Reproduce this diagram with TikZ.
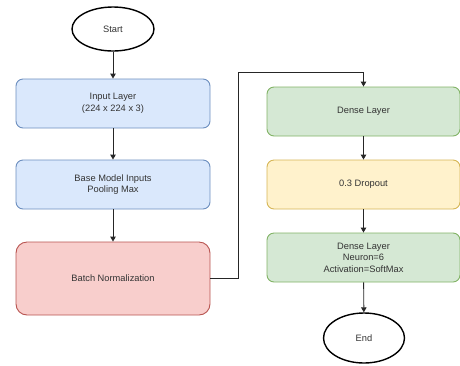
\documentclass[tikz,border=0pt]{standalone}
\usepackage{fontspec}
\setmainfont{Liberation Sans}
\usetikzlibrary{shapes.geometric,arrows.meta}
\definecolor{txt}{HTML}{333333}
\definecolor{bluef}{HTML}{DAE8FC}\definecolor{blued}{HTML}{6C8EBF}
\definecolor{redf}{HTML}{F8CECC}\definecolor{redd}{HTML}{B85450}
\definecolor{greenf}{HTML}{D5E8D4}\definecolor{greend}{HTML}{82B366}
\definecolor{yelf}{HTML}{FFF2CC}\definecolor{yeld}{HTML}{D6B656}
\tikzset{
  box/.style={rectangle, rounded corners=7pt, minimum width=194pt, minimum height=49pt,
    inner sep=0pt, align=center, text=txt, line width=0.9pt,
    font=\fontsize{9.3}{11.6}\selectfont},
  bluebox/.style={box, fill=bluef, draw=blued},
  redbox/.style={box, fill=redf, draw=redd, minimum height=73pt, rounded corners=11pt},
  greenbox/.style={box, fill=greenf, draw=greend, minimum width=193pt},
  yelbox/.style={box, fill=yelf, draw=yeld, minimum width=193pt},
  term/.style={ellipse, draw=black, fill=white, line width=1.4pt, minimum width=82pt,
    minimum height=44pt, inner sep=0pt, text=txt, font=\fontsize{9.3}{11.6}\selectfont},
  arr/.style={draw=black!85, line width=0.9pt, -{Triangle[width=5.5pt,length=5pt]}}
}
\begin{document}
\begin{tikzpicture}[x=1pt,y=-1pt]
\useasboundingbox (0,0) rectangle (460,365);
\node[term] (start) at (113,29) {Start};
\node[bluebox] (in) at (113,103.5) {Input Layer\\(224 x 224 x 3)};
\node[bluebox] (base) at (113,184.5) {Base Model Inputs\\Pooling Max};
\node[redbox] (bn) at (113,278.5) {Batch Normalization};
\node[greenbox] (d1) at (363.5,111.5) {Dense Layer};
\node[yelbox] (drop) at (363.5,184.5) {0.3 Dropout};
\node[greenbox] (d2) at (363.5,257.5) {Dense Layer\\Neuron=6\\Activation=SoftMax};
\node[term, minimum width=81pt, minimum height=50pt] (end) at (364,338) {End};
\coordinate (k1) at (238,72);
\draw[arr] (start) -- (in);
\draw[arr] (in) -- (base);
\draw[arr] (base) -- (bn);
\draw[arr] (bn.east) -| (k1) -| (d1.north);
\draw[arr] (d1) -- (drop);
\draw[arr] (drop) -- (d2);
\draw[arr] (d2) -- (end);
\end{tikzpicture}
\end{document}
